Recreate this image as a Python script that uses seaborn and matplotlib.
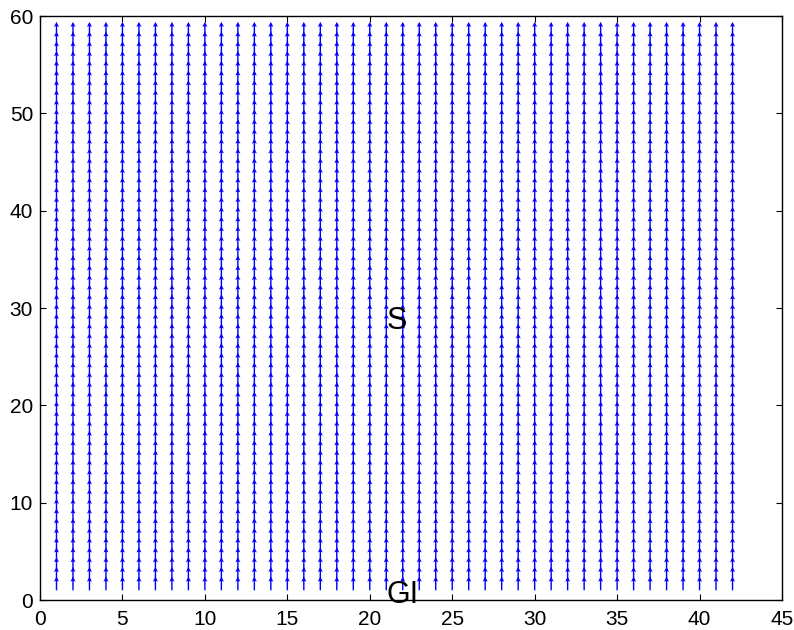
import numpy as np
import matplotlib
matplotlib.use("Agg")
import matplotlib.pyplot as plt
import seaborn as sns

# Grid of the vector field: columns along x, rows along y
x_cols = list(range(1, 43))
y_rows = list(range(1, 59))
# Uniform upward flow
u_comp = 0.0
v_comp = 1.0

# Axis ticks
x_ticks = [0, 5, 10, 15, 20, 25, 30, 35, 40, 45]
y_ticks = [0, 10, 20, 30, 40, 50, 60]

# Region labels
labels = ["S", "GI"]
label_x = [21.0, 21.0]
label_y = [29.0, 0.9]

sns.set_theme(style="white")
plt.rcParams["font.family"] = ["Liberation Sans", "DejaVu Sans"]

X, Y = np.meshgrid(x_cols, y_rows)
U = np.full(X.shape, u_comp)
V = np.full(X.shape, v_comp)

fig = plt.figure(figsize=(7.94, 6.30), dpi=100)
ax = fig.add_axes([40 / 794, 30 / 630, 742 / 794, 584 / 630])

ax.quiver(X, Y, U, V, angles="xy", scale_units="xy", scale=1 / 1.4,
          color=(0, 0, 1), width=0.0019, headwidth=3.6, headlength=3.6,
          headaxislength=3.0, pivot="tail")

for txt, tx, ty in zip(labels, label_x, label_y):
    ax.text(tx, ty, txt, fontsize=22, ha="left", va="center_baseline",
            color="black")

ax.set_xlim(0, 45)
ax.set_ylim(0, 60)
ax.set_xticks(x_ticks)
ax.set_yticks(y_ticks)
ax.tick_params(direction="in", length=4, width=0.8, color="black",
               labelsize=15, labelcolor="black",
               top=True, right=True, bottom=True, left=True)
ax.tick_params(axis="x", pad=7)
ax.tick_params(axis="y", pad=5)
for s in ax.spines.values():
    s.set_color("black")
    s.set_linewidth(1.0)
    s.set_visible(True)
ax.set_facecolor("white")
fig.patch.set_facecolor("white")

fig.savefig("out.png", dpi=100, facecolor="white")
